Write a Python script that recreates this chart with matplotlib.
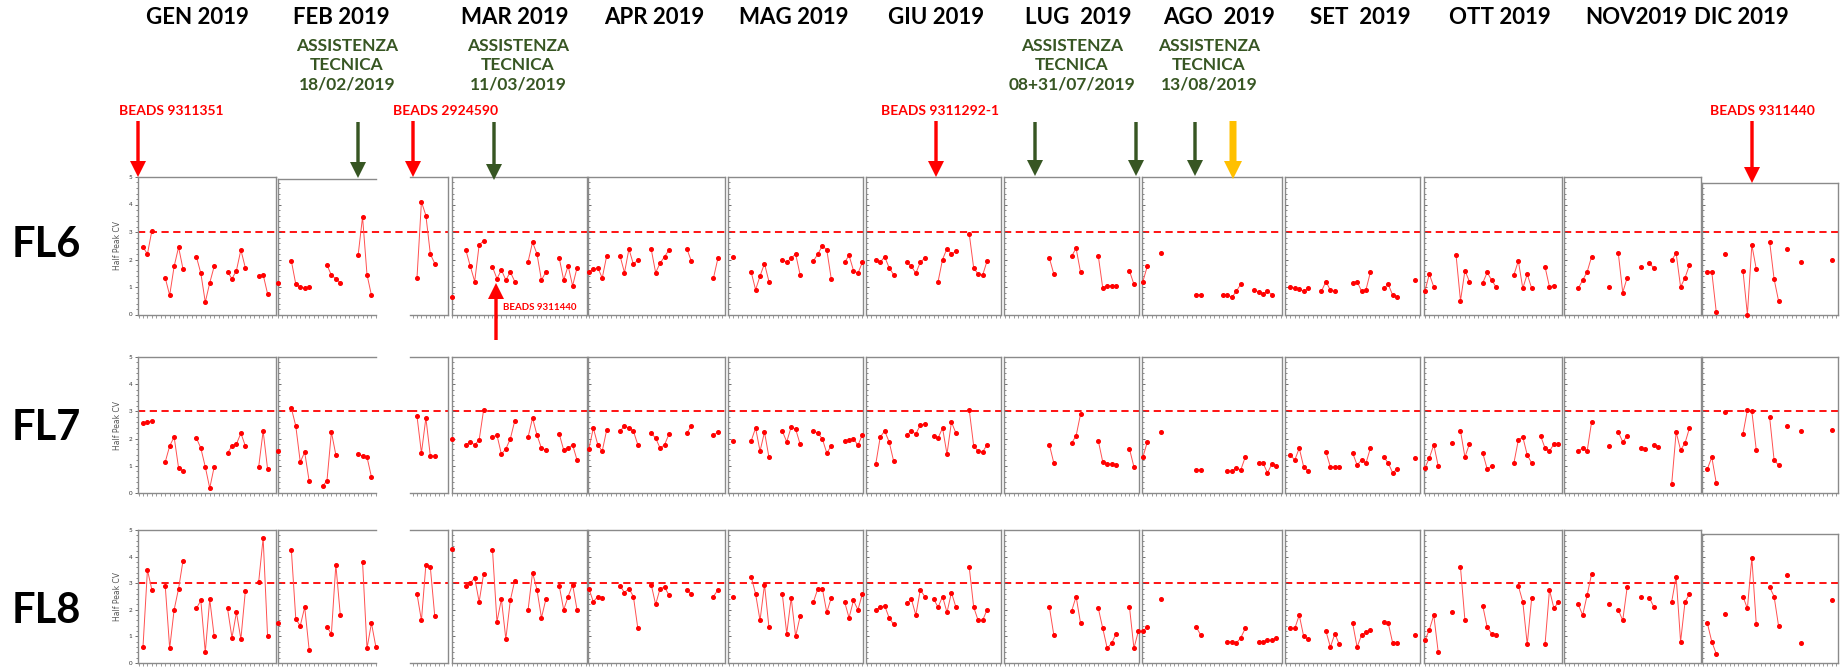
import numpy as np
import matplotlib.pyplot as plt
from matplotlib.patches import FancyArrow

# Half Peak CV, FL6 / FL7 / FL8, 2019 - one panel per month
# values are (day of month, CV); days in a run are joined by a line

segments = ["GEN", "FEB", "MARa", "MAR", "APR", "MAG", "GIU", "LUG", "AGO", "SET", "OTT", "NOV", "DIC"]

fl6 = {
    "GEN": [(2, 2.45), (3, 2.2), (4, 3.05), (7, 1.33), (8, 0.7), (9, 1.75), (10, 2.45), (11, 1.65),
            (14, 2.1), (15, 1.5), (16, 0.45), (17, 1.15), (18, 1.75), (21, 1.55), (22, 1.3), (23, 1.6),
            (24, 2.35), (25, 1.7), (28, 1.4), (29, 1.45), (30, 0.75)],
    "FEB": [(1, 1.15), (4, 1.95), (5, 1.1), (6, 1.0), (7, 0.95), (8, 1.0), (12, 1.8), (13, 1.43),
            (14, 1.3), (15, 1.15), (19, 2.15), (20, 3.55), (21, 1.45), (22, 0.7)],
    "MARa": [(2, 1.33), (3, 4.1), (4, 3.6), (5, 2.2), (6, 1.85)],
    "MAR": [(1, 0.65), (4, 2.35), (5, 1.76), (6, 1.2), (7, 2.53), (8, 2.68), (10, 1.73), (11, 1.3),
            (12, 1.62), (13, 1.25), (14, 1.55), (15, 1.2), (18, 1.92), (19, 2.63), (20, 2.2), (21, 1.25),
            (22, 1.55), (25, 2.05), (26, 1.25), (27, 1.77), (28, 1.04), (29, 1.7)],
    "APR": [(1, 1.56), (2, 1.64), (3, 1.7), (4, 1.33), (5, 2.13), (8, 2.13), (9, 1.52), (10, 2.38),
            (11, 1.83), (12, 1.98), (15, 2.38), (16, 1.52), (17, 1.87), (18, 2.1), (19, 2.35), (23, 2.4),
            (24, 1.95), (29, 1.33), (30, 2.05)],
    "MAG": [(2, 2.1), (6, 1.55), (7, 0.9), (8, 1.4), (9, 1.85), (10, 1.2), (13, 2.0), (14, 1.9),
            (15, 2.05), (16, 2.2), (17, 1.45), (20, 1.95), (21, 2.2), (22, 2.5), (23, 2.35), (24, 1.3),
            (27, 1.9), (28, 2.15), (29, 1.6), (30, 1.5), (31, 1.9)],
    "GIU": [(3, 2.0), (4, 1.9), (5, 2.1), (6, 1.7), (7, 1.45), (10, 1.9), (11, 1.75), (12, 1.5),
            (13, 1.9), (14, 2.05), (17, 1.2), (18, 2.0), (19, 2.4), (20, 2.2), (21, 2.3), (24, 2.93),
            (25, 1.69), (26, 1.47), (27, 1.43), (28, 1.94)],
    "LUG": [(11, 2.05), (12, 1.47), (16, 2.12), (17, 2.41), (18, 1.54), (22, 2.12), (23, 0.95),
            (24, 1.05), (25, 1.05), (26, 1.05), (29, 1.58), (30, 1.1)],
    "AGO": [(1, 1.2), (2, 1.76), (5, 2.23), (13, 0.72), (14, 0.72), (19, 0.72), (20, 0.72), (21, 0.62),
            (22, 0.85), (23, 1.1), (26, 0.9), (27, 0.82), (28, 0.75), (29, 0.85), (30, 0.72)],
    "SET": [(2, 1.0), (3, 0.95), (4, 0.92), (5, 0.85), (6, 0.95), (9, 0.85), (10, 1.2), (11, 0.88),
            (12, 0.85), (16, 1.15), (17, 1.2), (18, 0.85), (19, 0.9), (20, 1.55), (23, 0.95), (24, 1.1),
            (25, 0.7), (26, 0.65), (30, 1.25)],
    "OTT": [(1, 0.85), (2, 1.47), (3, 1.0), (8, 2.17), (9, 0.5), (10, 1.6), (11, 1.2), (14, 1.15),
            (15, 1.53), (16, 1.25), (17, 1.0), (21, 1.44), (22, 1.95), (23, 0.95), (24, 1.47), (25, 0.95),
            (28, 1.73), (29, 1.0), (30, 1.05)],
    "NOV": [(4, 0.95), (5, 1.25), (6, 1.55), (7, 2.1), (11, 1.0), (13, 2.23), (14, 0.8), (15, 1.34),
            (18, 1.73), (20, 1.87), (21, 1.68), (25, 1.98), (26, 2.23), (27, 1.0), (28, 1.34), (29, 1.8)],
    "DIC": [(2, 1.55), (3, 1.55), (4, 0.1), (6, 2.2), (10, 1.6), (11, 0.0), (12, 2.53), (13, 1.65),
            (16, 2.65), (17, 1.29), (18, 0.5), (20, 2.38), (23, 1.9), (30, 2.0)],
}

fl7 = {
    "GEN": [(2, 2.57), (3, 2.61), (4, 2.65), (7, 1.14), (8, 1.73), (9, 2.06), (10, 0.92), (11, 0.81),
            (14, 2.02), (15, 1.65), (16, 0.96), (17, 0.18), (18, 0.96), (21, 1.47), (22, 1.73), (23, 1.8),
            (24, 2.2), (25, 1.73), (28, 0.96), (29, 2.28), (30, 0.88)],
    "FEB": [(1, 1.55), (4, 3.12), (5, 2.46), (6, 1.14), (7, 1.5), (8, 0.44), (11, 0.26), (12, 0.44),
            (13, 2.24), (14, 1.4), (19, 1.43), (20, 1.36), (21, 1.32), (22, 0.59)],
    "MARa": [(2, 2.83), (3, 1.47), (4, 2.76), (5, 1.36), (6, 1.36)],
    "MAR": [(1, 1.99), (4, 1.77), (5, 1.88), (6, 1.77), (7, 1.95), (8, 3.05), (10, 2.06), (11, 2.13),
            (12, 1.43), (13, 1.62), (14, 1.99), (15, 2.65), (18, 2.06), (19, 2.76), (20, 2.13), (21, 1.65),
            (22, 1.58), (25, 2.17), (26, 1.58), (27, 1.65), (28, 1.77), (29, 1.21)],
    "APR": [(1, 1.62), (2, 2.39), (3, 1.77), (4, 1.54), (5, 2.32), (8, 2.28), (9, 2.46), (10, 2.39),
            (11, 2.28), (12, 1.77), (15, 2.2), (16, 2.02), (17, 1.65), (18, 1.77), (19, 2.17), (23, 2.2),
            (24, 2.46), (29, 2.13), (30, 2.24)],
    "MAG": [(2, 1.91), (6, 1.91), (7, 2.39), (8, 1.54), (9, 2.24), (10, 1.32), (13, 2.28), (14, 1.88),
            (15, 2.43), (16, 2.35), (17, 1.8), (20, 2.28), (21, 2.2), (22, 1.99), (23, 1.47), (24, 1.73),
            (27, 1.91), (28, 1.95), (29, 2.0), (30, 1.75), (31, 2.15)],
    "GIU": [(3, 1.07), (4, 2.06), (5, 2.28), (6, 1.88), (7, 1.18), (10, 2.13), (11, 2.28), (12, 2.17),
            (13, 2.5), (14, 2.54), (16, 2.1), (17, 2.02), (18, 2.39), (19, 1.43), (20, 2.61), (21, 2.2),
            (24, 3.05), (25, 1.73), (26, 1.54), (27, 1.51), (28, 1.77)],
    "LUG": [(11, 1.77), (12, 1.1), (16, 1.84), (17, 2.1), (18, 2.9), (22, 1.91), (23, 1.14), (24, 1.07),
            (25, 1.07), (26, 1.03), (29, 1.62), (30, 0.96)],
    "AGO": [(1, 1.32), (2, 1.88), (5, 2.24), (13, 0.85), (14, 0.85), (20, 0.81), (21, 0.81), (22, 0.92),
            (23, 0.85), (24, 1.32), (27, 1.1), (28, 1.1), (29, 0.74), (30, 1.07), (31, 0.99)],
    "SET": [(2, 1.4), (3, 1.21), (4, 1.65), (5, 0.96), (6, 0.81), (10, 1.51), (11, 0.96), (12, 0.96),
            (13, 0.96), (16, 1.47), (17, 1.03), (18, 1.21), (19, 1.1), (20, 1.65), (23, 1.32), (24, 1.1),
            (25, 0.74), (26, 0.88), (30, 1.29)],
    "OTT": [(1, 0.92), (2, 1.29), (3, 1.77), (4, 0.99), (7, 1.84), (9, 2.28), (10, 1.32), (11, 1.8),
            (14, 1.47), (15, 0.88), (16, 0.99), (21, 1.1), (22, 1.95), (23, 2.06), (24, 1.4), (25, 1.1),
            (27, 2.1), (28, 1.65), (29, 1.54), (30, 1.8), (31, 1.8)],
    "NOV": [(4, 1.54), (5, 1.65), (6, 1.54), (7, 2.61), (11, 1.73), (13, 2.24), (14, 1.88), (15, 2.1),
            (18, 1.65), (19, 1.62), (21, 1.77), (22, 1.69), (25, 0.33), (26, 2.24), (27, 1.58), (28, 1.84),
            (29, 2.39)],
    "DIC": [(2, 0.88), (3, 1.32), (4, 0.37), (6, 2.98), (10, 2.17), (11, 3.05), (12, 3.01), (13, 1.58),
            (16, 2.79), (17, 1.21), (18, 1.03), (20, 2.46), (23, 2.28), (30, 2.32)],
}

fl8 = {
    "GEN": [(2, 0.6), (3, 3.5), (4, 2.75), (7, 2.9), (8, 0.55), (9, 2.0), (10, 2.8), (11, 3.85),
            (14, 2.05), (15, 2.35), (16, 0.4), (17, 2.4), (18, 1.0), (21, 2.05), (22, 0.95), (23, 1.9),
            (24, 0.9), (25, 2.7), (28, 3.05), (29, 4.7), (30, 1.0)],
    "FEB": [(1, 1.5), (4, 4.25), (5, 1.65), (6, 1.4), (7, 2.1), (8, 0.5), (12, 1.35), (13, 1.1),
            (14, 3.7), (15, 1.8), (20, 3.8), (21, 0.55), (22, 1.5), (23, 0.6)],
    "MARa": [(2, 2.6), (3, 1.6), (4, 3.7), (5, 3.6), (6, 1.75)],
    "MAR": [(1, 4.3), (4, 2.9), (5, 3.0), (6, 3.2), (7, 2.3), (8, 3.35), (10, 4.25), (11, 1.55),
            (12, 2.4), (13, 0.9), (14, 2.35), (15, 3.1), (18, 2.0), (19, 3.4), (20, 2.75), (21, 1.7),
            (22, 2.4), (25, 2.9), (26, 2.0), (27, 2.5), (28, 2.95), (29, 2.0)],
    "APR": [(1, 2.8), (2, 2.3), (3, 2.5), (4, 2.45), (8, 2.9), (9, 2.65), (10, 2.8), (11, 2.5),
            (12, 1.3), (15, 2.95), (16, 2.2), (17, 2.8), (18, 2.85), (19, 2.55), (23, 2.75), (24, 2.6),
            (29, 2.5), (30, 2.75)],
    "MAG": [(2, 2.5), (6, 3.25), (7, 2.6), (8, 1.6), (9, 2.95), (10, 1.35), (13, 2.6), (14, 1.1),
            (15, 2.45), (16, 1.0), (17, 1.75), (20, 2.3), (21, 2.8), (22, 2.8), (23, 1.9), (24, 2.45),
            (27, 2.3), (28, 1.7), (29, 2.35), (30, 2.0), (31, 2.6)],
    "GIU": [(3, 2.0), (4, 2.1), (5, 2.15), (6, 1.7), (7, 1.45), (10, 2.25), (11, 2.4), (12, 1.8),
            (13, 2.75), (14, 2.5), (16, 2.4), (17, 2.1), (18, 2.5), (19, 1.9), (20, 2.65), (21, 2.1),
            (24, 3.6), (25, 2.1), (26, 1.6), (27, 1.6), (28, 2.0)],
    "LUG": [(11, 2.1), (12, 1.05), (16, 1.95), (17, 2.5), (18, 1.5), (22, 2.05), (23, 1.3), (24, 0.55),
            (25, 0.75), (26, 1.1), (29, 2.1), (30, 0.55), (31, 1.2)],
    "AGO": [(1, 1.2), (2, 1.35), (5, 2.4), (13, 1.35), (14, 1.05), (20, 0.8), (21, 0.8), (22, 0.75),
            (23, 0.95), (24, 1.3), (27, 0.8), (28, 0.8), (29, 0.85), (30, 0.85), (31, 0.95)],
    "SET": [(2, 1.3), (3, 1.3), (4, 1.8), (5, 1.0), (6, 0.9), (10, 1.2), (11, 0.6), (12, 1.1),
            (13, 0.7), (16, 1.5), (17, 0.6), (18, 1.05), (19, 1.15), (20, 1.25), (23, 1.55), (24, 1.5),
            (25, 0.75), (26, 0.75), (30, 1.05)],
    "OTT": [(1, 0.85), (2, 1.25), (3, 1.8), (4, 0.4), (7, 1.9), (9, 3.6), (10, 1.6), (14, 2.15),
            (15, 1.35), (16, 1.1), (17, 1.05), (22, 2.9), (23, 2.3), (24, 0.7), (25, 2.45), (28, 0.7),
            (29, 2.75), (30, 2.05), (31, 2.3)],
    "NOV": [(4, 2.2), (5, 1.8), (6, 2.55), (7, 3.35), (11, 2.2), (13, 2.0), (14, 1.6), (15, 2.85),
            (18, 2.5), (20, 2.45), (21, 2.1), (25, 2.3), (26, 3.25), (27, 0.8), (28, 2.3), (29, 2.6)],
    "DIC": [(2, 1.5), (3, 0.8), (4, 0.35), (6, 1.85), (10, 2.5), (11, 2.05), (12, 3.95), (13, 1.45),
            (16, 2.85), (17, 2.5), (18, 1.4), (20, 3.3), (23, 0.75), (30, 2.35)],
}

row_names = ["FL6", "FL7", "FL8"]
rows = [fl6, fl7, fl8]
limit_cv = 3.0

month_titles = ["GEN 2019", "FEB 2019", "MAR 2019", "APR 2019", "MAG 2019", "GIU 2019",
                "LUG  2019", "AGO  2019", "SET  2019", "OTT 2019", "NOV2019", "DIC 2019"]

# ---------------- layout (pixels of the 1841x670 canvas) ----------------
W, H = 1841, 670
PX_DAY = 4.45
seg_x = [(138, 276), (278, 410), (410, 448), (452, 587), (588, 725), (728, 863), (866, 1001),
         (1004, 1139), (1142, 1282), (1285, 1420), (1424, 1562), (1564, 1701), (1702, 1838)]
seg_d0 = [0.88, 1.0, 0.43, 0.9, 0.8, 0.8, 0.8, 0.8, 0.8, 0.8, 0.8, 0.8, 0.8]
row_top = [177, 357, 530]
row_bot = [314.5, 493, 663]
# a few screenshot crops sit a little lower than the rest of the row
top_shift = {(0, "FEB"): 2, (0, "DIC"): 6, (2, "DIC"): 4}
title_x = [197, 341, 515, 654, 794, 936, 1078, 1219, 1360, 1500, 1636, 1741]

GRAY = "#8a8a8a"
GREEN = "#375623"
RED = "#ff0000"

plt.rcParams["font.family"] = ["Lato", "DejaVu Sans"]
fig = plt.figure(figsize=(W / 100, H / 100), dpi=100)


def px_axes(x0, x1, top, bottom):
    return fig.add_axes([x0 / W, 1 - bottom / H, (x1 - x0) / W, (bottom - top) / H])


for r, data in enumerate(rows):
    for i, seg in enumerate(segments):
        x0, x1 = seg_x[i]
        top = row_top[r] + top_shift.get((r, seg), 0)
        ax = px_axes(x0, x1, top, row_bot[r])
        lo = seg_d0[i]
        hi = lo + (x1 - x0) / PX_DAY
        # keep the same px per CV unit when the top edge is lowered
        y_hi = 5 * (row_bot[r] - top) / (row_bot[r] - row_top[r])

        ax.axhline(limit_cv, color=RED, lw=1.3, ls=(0, (4, 2.5)), zorder=1)

        xs, ys = [], []
        pts = data[seg]
        for k, (d, v) in enumerate(pts):
            if k and d - pts[k - 1][0] > 1:
                xs.append(np.nan)
                ys.append(np.nan)
            xs.append(d)
            ys.append(v)
        ax.plot(xs, ys, color="#ff5050", lw=0.7, marker="o", ms=2.6,
                mfc=RED, mec=RED, clip_on=False, zorder=3)

        for sp in ax.spines.values():
            sp.set_color(GRAY)
            sp.set_linewidth(1.0)

        tick_end = hi
        if seg == "FEB":
            tick_end = lo + 98 / PX_DAY
            ax.spines["right"].set_visible(False)
            ax.spines["top"].set_bounds(lo, tick_end)
            ax.spines["bottom"].set_bounds(lo, tick_end)
        if seg == "MARa":
            ax.spines["left"].set_visible(False)

        ax.set_xticks(np.arange(np.ceil(lo), np.floor(tick_end) + 1))
        ax.tick_params(axis="x", length=2.5, width=0.6, color=GRAY,
                       labelbottom=False, direction="out")

        ax.set_yticks([t for t in range(6) if t <= y_hi])
        ax.set_yticks([t for t in np.arange(0, 5.01, 0.2) if t <= y_hi], minor=True)
        if seg == "GEN":
            ax.tick_params(axis="y", which="major", length=2.5, width=0.6, color="#555555",
                           labelsize=4.5, labelcolor="#333333", pad=1.5, direction="out")
            ax.tick_params(axis="y", which="minor", length=1.2, width=0.5, color="#555555",
                           direction="out")
            ax.set_ylabel("Half Peak CV", fontsize=5.5, color="#555555", labelpad=5,
                          family=["DejaVu Sans"])
        elif seg == "MARa":
            ax.tick_params(axis="y", which="both", left=False, labelleft=False)
        else:
            ax.tick_params(axis="y", which="major", length=2, width=0.6, color="#555555",
                           labelleft=False, direction="in")
            ax.tick_params(axis="y", which="minor", length=1.2, width=0.5, color="#555555",
                           direction="in")

        # limits last, so the tick setters cannot widen them
        ax.set_xlim(lo, hi)
        ax.set_ylim(0, y_hi)

# ---------------- overlay: titles, notes, arrows ----------------
ov = fig.add_axes([0, 0, 1, 1])
ov.set_xlim(0, W)
ov.set_ylim(H, 0)
ov.axis("off")
ov.patch.set_visible(False)

for x, t in zip(title_x, month_titles):
    ov.text(x, 18, t, ha="center", va="center", fontsize=16, fontweight="bold", color="black")

for name, y in zip(row_names, [245, 428, 611]):
    ov.text(46, y, name, ha="center", va="center", fontsize=30, fontweight="bold", color="black")

assist = [(347, "18/02/2019"), (518, "11/03/2019"), (1072, "08+31/07/2019"), (1209, "13/08/2019")]
for x, date in assist:
    ov.text(x, 65, "ASSISTENZA\nTECNICA\n" + date, ha="center", va="center", fontsize=12.5,
            fontweight="bold", color=GREEN, linespacing=1.25)

beads = [(171, "BEADS 9311351"), (446, "BEADS 2924590"), (940, "BEADS 9311292-1"), (1762, "BEADS 9311440")]
for x, lab in beads:
    ov.text(x, 111, lab, ha="center", va="center", fontsize=10, fontweight="bold", color=RED)
ov.text(540, 307, "BEADS 9311440", ha="center", va="center", fontsize=7, fontweight="bold", color=RED)


def down_arrow(x, top, tip, color, shaft=3.4, head_w=16, head_l=16):
    ov.add_patch(FancyArrow(x, top, 0, tip - top, width=shaft, head_width=head_w,
                            head_length=head_l, length_includes_head=True,
                            color=color, lw=0))


for x, tip in [(138, 177), (413, 177), (936, 177), (1752, 183)]:
    down_arrow(x, 121, tip, RED)
for x, tip in [(358, 178), (494, 180), (1035, 176), (1136, 176), (1195, 176)]:
    down_arrow(x, 122, tip, GREEN)
down_arrow(1233, 121, 179, "#ffc000", shaft=7, head_w=18, head_l=18)
down_arrow(496, 340, 283, RED)

fig.savefig("out.png", dpi=100)
